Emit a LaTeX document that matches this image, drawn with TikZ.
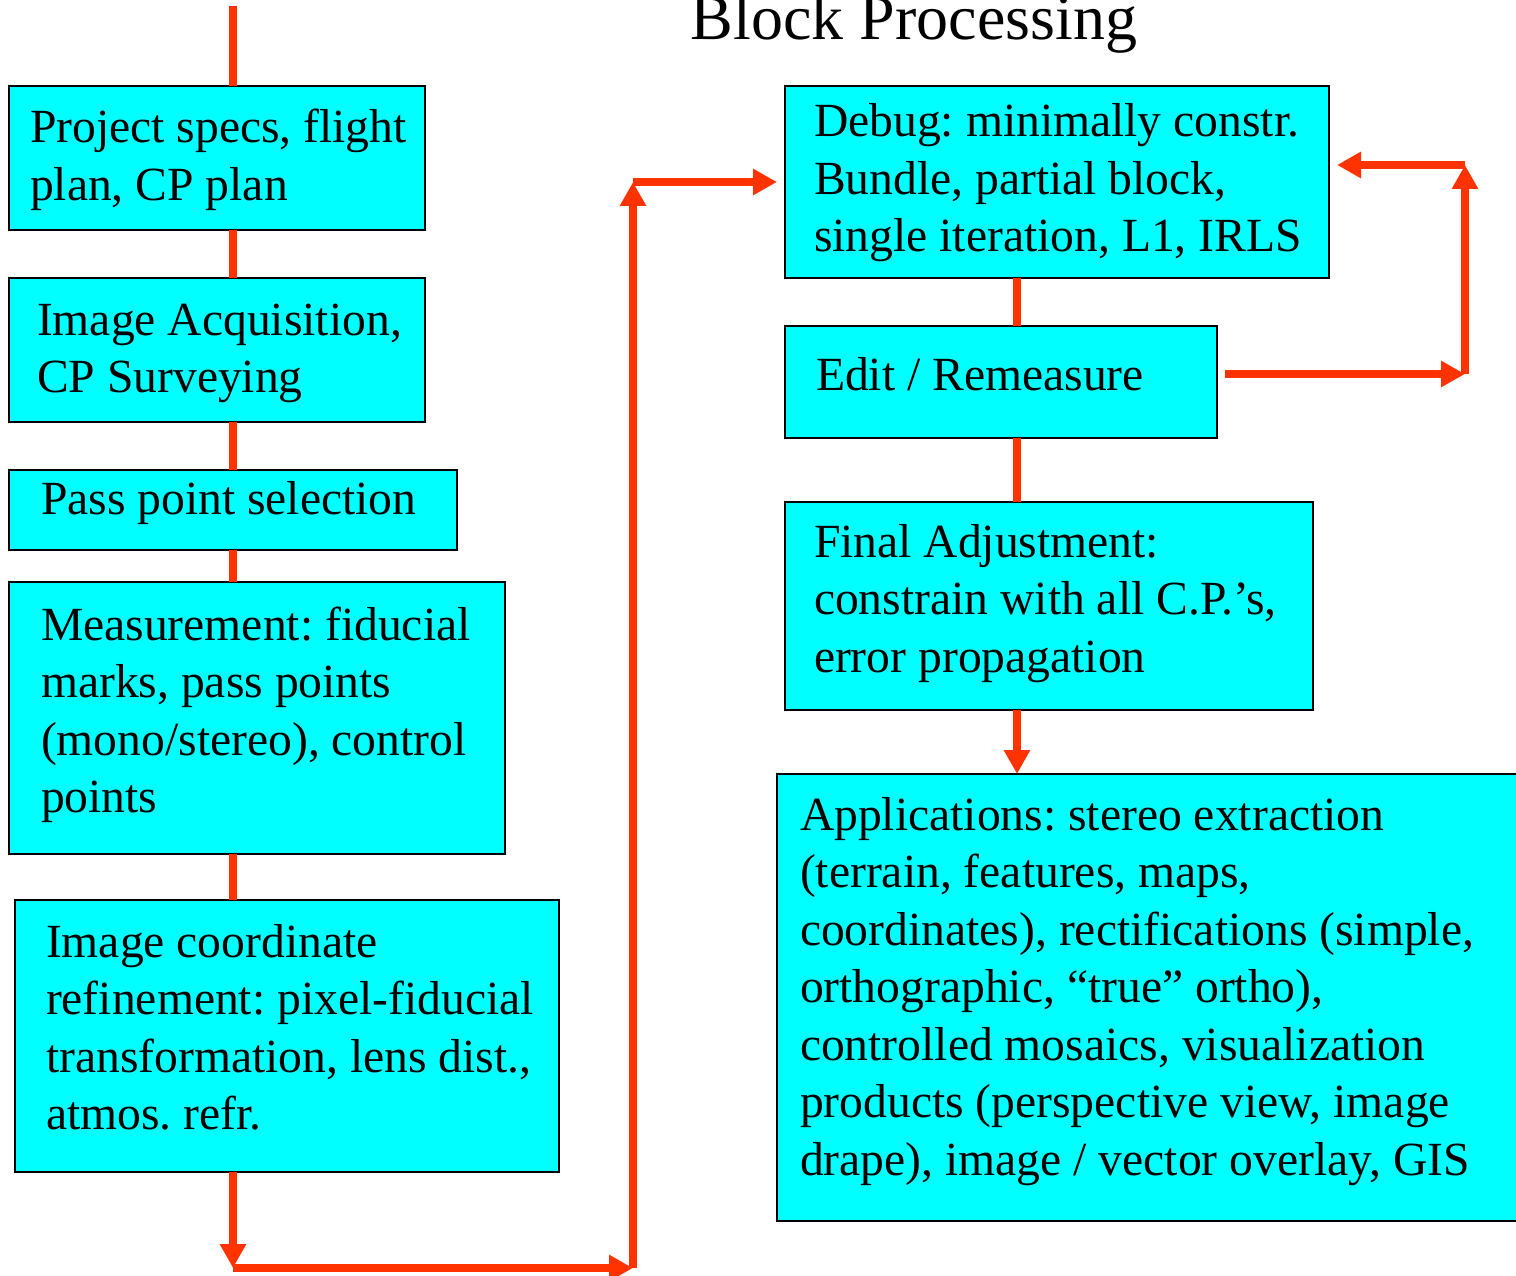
\documentclass[tikz,border=0pt]{standalone}
\usepackage{fontspec}
\setmainfont{Liberation Serif}
\usetikzlibrary{arrows.meta}
\definecolor{boxcyan}{HTML}{00FFFF}
\definecolor{flowred}{HTML}{FF3300}
\newcommand\mlines[1]{\begin{tabular}[t]{@{}l@{}}#1\end{tabular}}
\frenchspacing
\begin{document}
\begin{tikzpicture}[x=1pt,y=-1pt,
  boxnode/.style={draw=black,line width=2.5pt,fill=boxcyan,inner sep=0pt,outer sep=0pt,anchor=north west},
  txt/.style={inner sep=0pt,outer sep=0pt,anchor=base west,font=\fontsize{47.6}{57.5}\selectfont\frenchspacing},
  conn/.style={draw=flowred,line width=8pt},
  arr/.style={conn,-{Triangle[length=24pt,width=25pt]}}]
\useasboundingbox (0,0) rectangle (1516,1276);
\renewcommand\arraystretch{1}
% title
\node[inner sep=0pt,anchor=base,font=\fontsize{64}{70}\selectfont] (title) at (914,40) {Block Processing};
% left column boxes
\node[boxnode,minimum width=416pt,minimum height=144pt] (b1) at (9,86) {};
\node[boxnode,minimum width=416pt,minimum height=144pt] (b2) at (9,278) {};
\node[boxnode,minimum width=448pt,minimum height=80pt] (b3) at (9,470) {};
\node[boxnode,minimum width=496pt,minimum height=272pt] (b4) at (9,582) {};
\node[boxnode,minimum width=544pt,minimum height=272pt] (b5) at (15,900) {};
% right column boxes
\node[boxnode,minimum width=544pt,minimum height=192pt] (d1) at (785,86) {};
\node[boxnode,minimum width=432pt,minimum height=112pt] (d2) at (785,326) {};
\node[boxnode,minimum width=528pt,minimum height=208pt] (d3) at (785,502) {};
\node[boxnode,minimum width=746pt,minimum height=447pt] (d4) at (777,774) {};
% texts
\node[txt] (t1) at (30,143) {\mlines{Project specs, flight\\plan, CP plan}};
\node[txt] (t2) at (37,335) {\mlines{Image Acquisition,\\CP Surveying}};
\node[txt] (t3) at (41,514) {Pass point selection};
\node[txt] (t4) at (41,640) {\mlines{Measurement: fiducial\\marks, pass points\\(mono/stereo), control\\points}};
\node[txt] (t5) at (46,957) {\mlines{Image coordinate\\refinement: pixel-fiducial\\transformation, lens dist.,\\atmos. refr.}};
\node[txt] (u1) at (814,137) {\mlines{Debug: minimally constr.\\Bundle, partial block,\\single iteration, L1, IRLS}};
\node[txt] (u2) at (816,390) {Edit / Remeasure};
\node[txt] (u3) at (814,557) {\mlines{Final Adjustment:\\constrain with all C.P.’s,\\error propagation}};
\node[txt] (u4) at (800,830) {\mlines{Applications: stereo extraction\\(terrain, features, maps,\\coordinates), rectifications (simple,\\orthographic, “true” ortho),\\controlled mosaics, visualization\\products (perspective view, image\\drape), image / vector overlay, GIS}};
% connector coordinates
\coordinate (top) at (233,6);
\coordinate (lx) at (233,0);
\coordinate (rx) at (1017,0);
\coordinate (c1) at (233,1268);
\coordinate (c2) at (633,1268);
\coordinate (c3) at (633,182);
\coordinate (c4) at (777,182);
\coordinate (e1) at (1225,374);
\coordinate (e2) at (1465,374);
\coordinate (e3) at (1465,165);
\coordinate (e4) at (1337,165);
% left chain
\path[conn] (top) -- (b1.north -| lx);
\path[conn] (b1.south -| lx) -- (b2.north -| lx);
\path[conn] (b2.south -| lx) -- (b3.north -| lx);
\path[conn] (b3.south -| lx) -- (b4.north -| lx);
\path[conn] (b4.south -| lx) -- (b5.north -| lx);
\path[arr] (b5.south -| lx) -- (c1);
\path[arr] (c1) -- (c2);
\path[arr] (c2) -- (c3);
\path[arr] (c3) -- (c4);
% right chain
\path[conn] (d1.south -| rx) -- (d2.north -| rx);
\path[conn] (d2.south -| rx) -- (d3.north -| rx);
\path[arr] (d3.south -| rx) -- (d4.north -| rx);
% feedback loop
\path[arr] (e1) -- (e2);
\path[arr] (e2) -- (e3);
\path[arr] (e3) -- (e4);
\end{tikzpicture}
\end{document}
